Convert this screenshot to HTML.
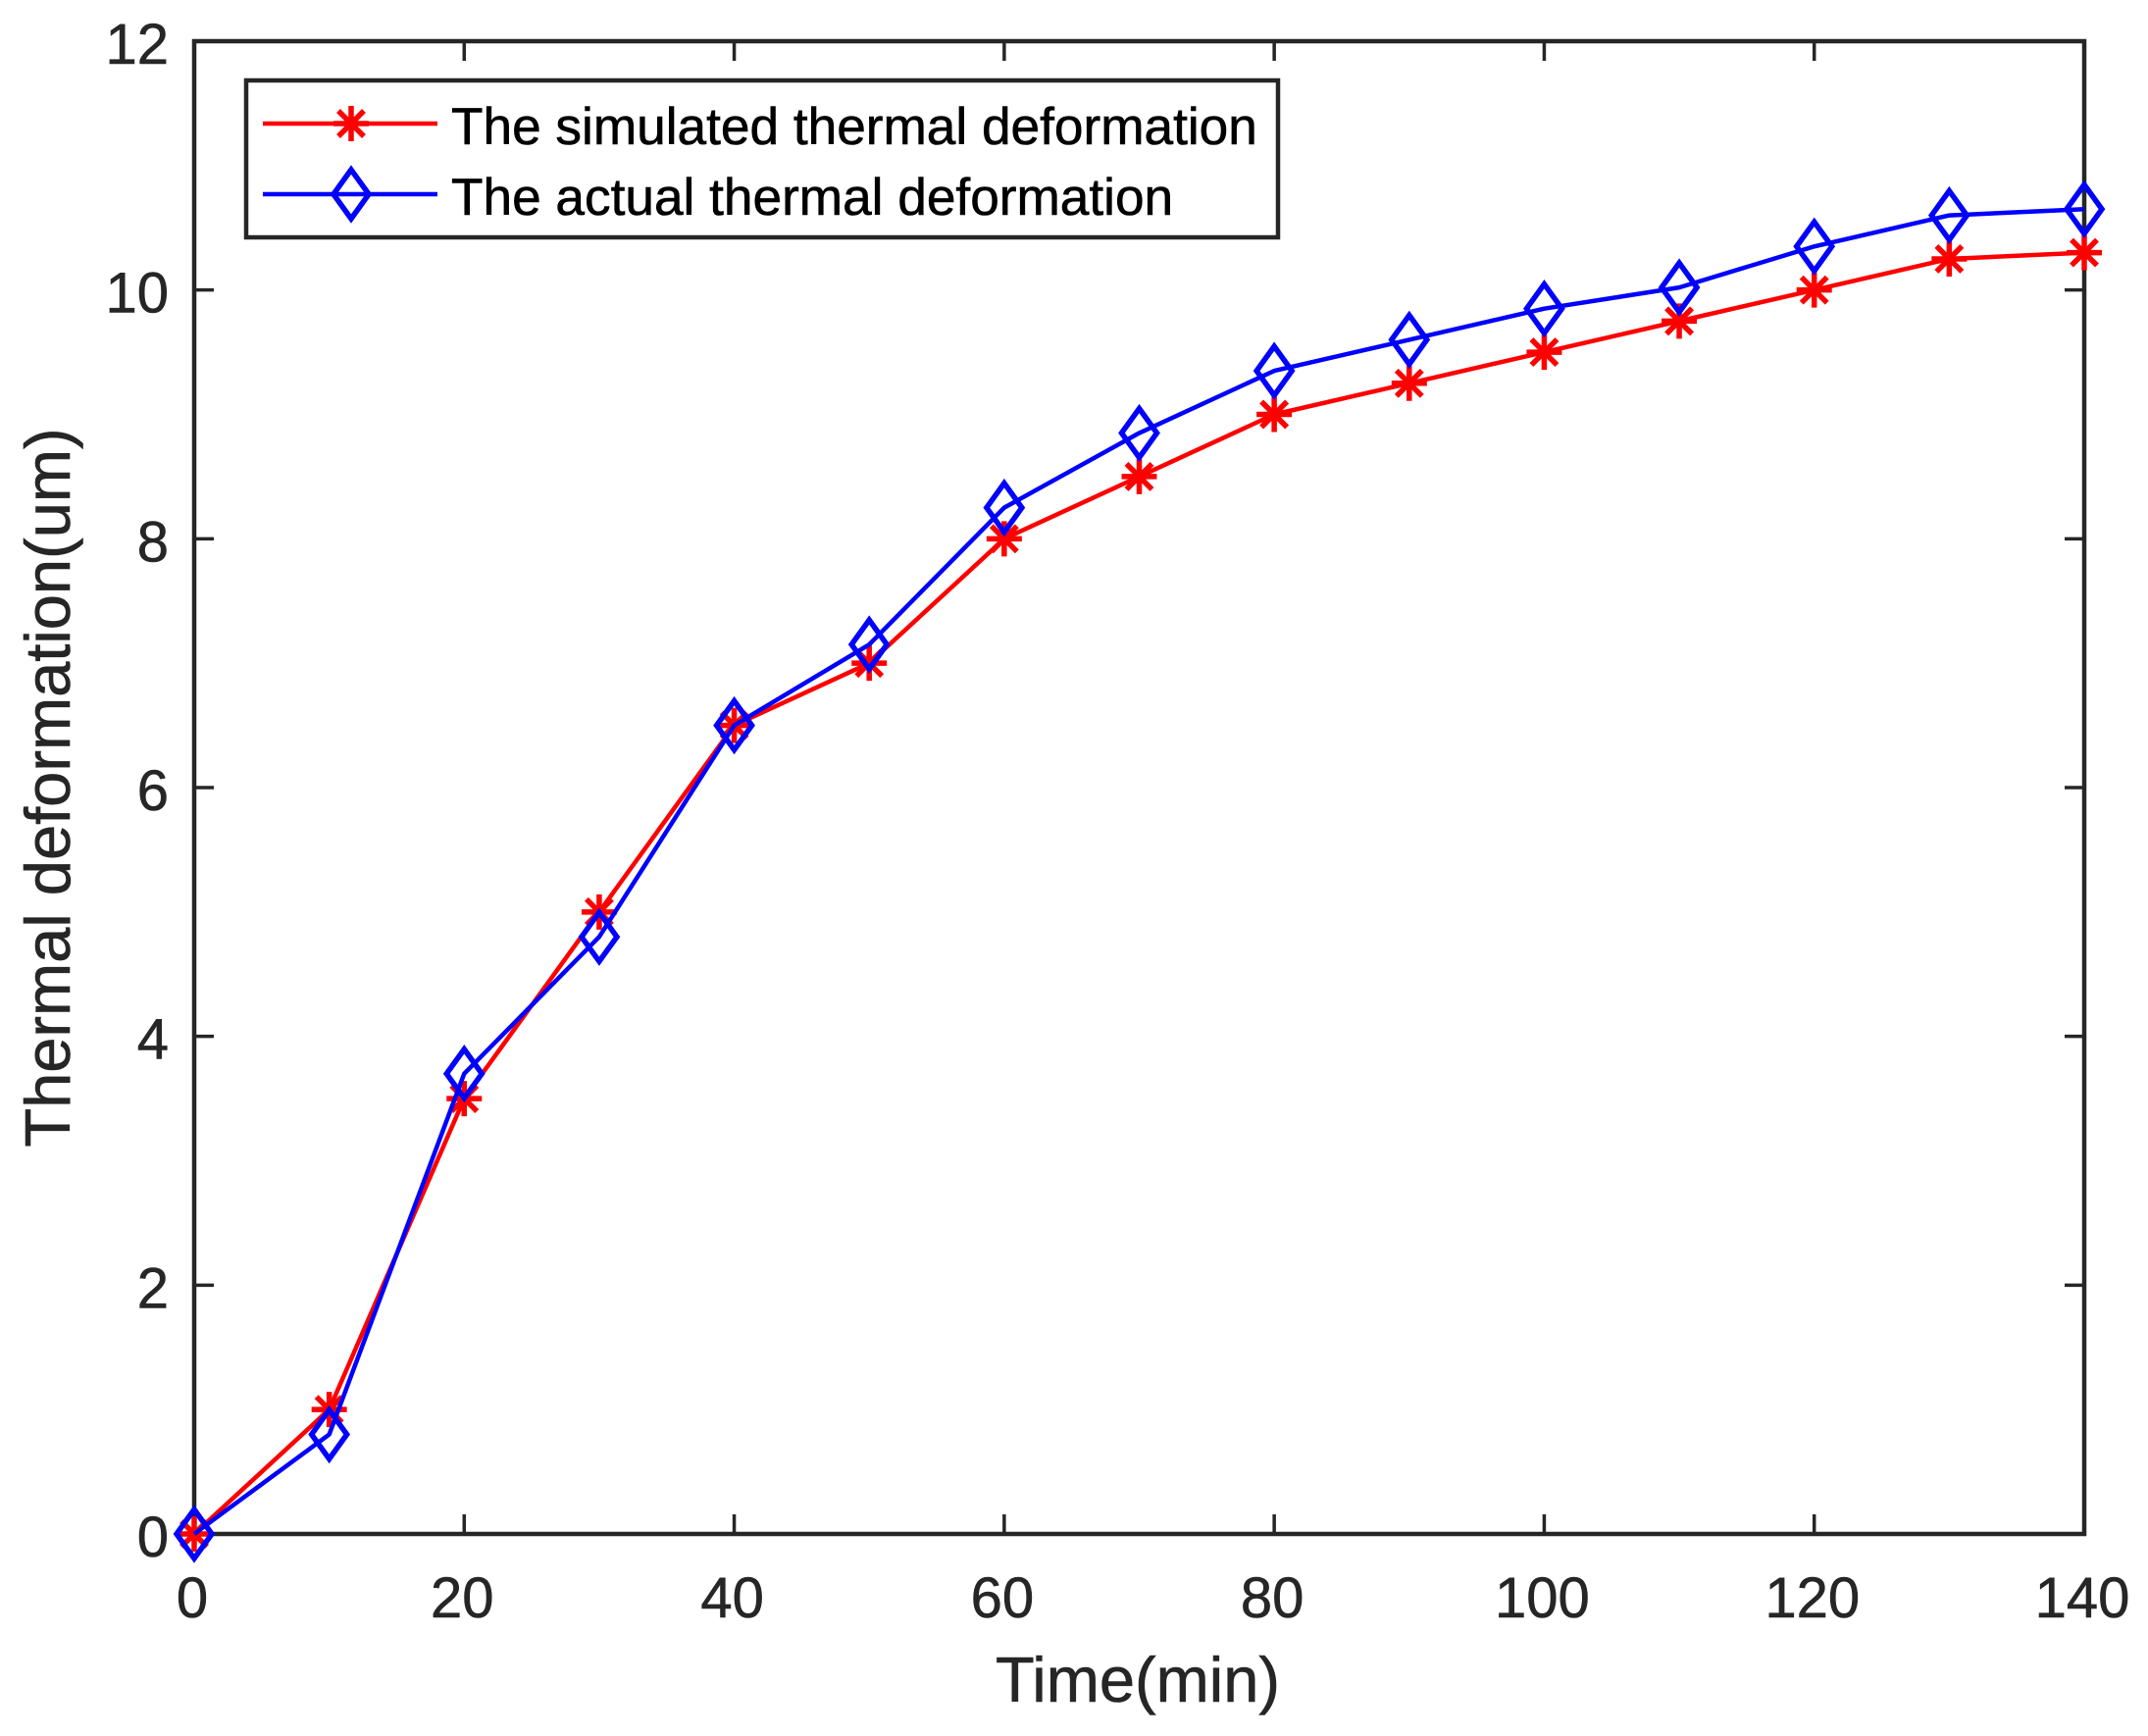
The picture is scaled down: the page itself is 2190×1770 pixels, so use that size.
<!DOCTYPE html>
<html lang="en">
<head>
<meta charset="utf-8">
<title>Thermal deformation chart</title>
<style>
  html, body { margin: 0; padding: 0; background: #fff; }
  svg { display: block; font-family: "Liberation Sans", Arial, sans-serif; }
</style>
</head>
<body>
<svg id="chart" xmlns="http://www.w3.org/2000/svg" width="2190" height="1770" viewBox="0 0 2190 1770">
  <rect x="0" y="0" width="2190" height="1770" fill="#ffffff"/>
  <g id="ticks"></g>
  <g id="tick-labels"></g>
  <g id="series"></g>
  <rect x="198" y="42" width="1927" height="1522" fill="none" stroke="#262626" stroke-width="4.5"/>
  <g id="series-top"></g>
  <text x="1160" y="1735" font-size="65" fill="#262626" stroke="#262626" stroke-width="0.6" text-anchor="middle">Time(min)</text>
  <text transform="translate(71 803) rotate(-90)" font-size="65" fill="#262626" stroke="#262626" stroke-width="0.6" text-anchor="middle">Thermal deformation(um)</text>
  <g>
    <rect x="251" y="82" width="1052" height="160" fill="#ffffff" stroke="#262626" stroke-width="4.5"/>
    <g>
      <line x1="268" y1="126" x2="446" y2="126" stroke="#ff0000" stroke-width="4.5"/>
      <path d="M340 126H376M358 108V144M345 113L371 139M371 113L345 139" fill="none" stroke="#ff0000" stroke-width="5.5"/>
      <text x="460" y="147" font-size="53.2" fill="#000000" stroke="#000000" stroke-width="0.6">The simulated thermal deformation</text>
    </g>
    <g>
      <line x1="268" y1="198" x2="446" y2="198" stroke="#0000ff" stroke-width="4.5"/>
      <path d="M358 173L376 198L358 223L340 198Z" fill="none" stroke="#0000ff" stroke-width="5.5"/>
      <text x="460" y="219" font-size="53.2" fill="#000000" stroke="#000000" stroke-width="0.6">The actual thermal deformation</text>
    </g>
  </g>
</svg>
<script>
const timeMinutes = [0, 10, 20, 30, 40, 50, 60, 70, 80, 90, 100, 110, 120, 130, 140];
const simulatedDeformation = [0, 1, 3.5, 5, 6.5, 7, 8, 8.5, 9, 9.25, 9.5, 9.75, 10, 10.25, 10.3];
const actualDeformation = [0, 0.8, 3.7, 4.8, 6.5, 7.15, 8.25, 8.85, 9.35, 9.6, 9.85, 10.02, 10.35, 10.6, 10.65];
const xTickValues = [0, 20, 40, 60, 80, 100, 120, 140];
const yTickValues = [0, 2, 4, 6, 8, 10, 12];

const NS = 'http://www.w3.org/2000/svg';
const plot = { left: 198, right: 2125, top: 42, bottom: 1564 };
const xDomain = [0, 140];
const yDomain = [0, 12];
const TICK_LEN = 20;

function xScale(v) {
  return plot.left + (v - xDomain[0]) / (xDomain[1] - xDomain[0]) * (plot.right - plot.left);
}
function yScale(v) {
  return plot.bottom - (v - yDomain[0]) / (yDomain[1] - yDomain[0]) * (plot.bottom - plot.top);
}

const ticksGroup = document.getElementById('ticks');
const labelsGroup = document.getElementById('tick-labels');
const topGroup = document.getElementById('series-top');

function addTick(x1, y1, x2, y2, name) {
  const el = document.createElementNS(NS, 'line');
  el.setAttribute('x1', x1);
  el.setAttribute('y1', y1);
  el.setAttribute('x2', x2);
  el.setAttribute('y2', y2);
  el.setAttribute('stroke', '#262626');
  el.setAttribute('stroke-width', '3.5');
  
  
  ticksGroup.appendChild(el);
}

function addLabel(x, y, anchor, text, name) {
  const el = document.createElementNS(NS, 'text');
  el.setAttribute('x', x);
  el.setAttribute('y', y);
  el.setAttribute('text-anchor', anchor);
  el.setAttribute('font-size', '58');
  el.setAttribute('fill', '#262626');
  el.setAttribute('stroke', '#262626');
  el.setAttribute('stroke-width', '0.6');
  
  
  el.textContent = text;
  labelsGroup.appendChild(el);
}

xTickValues.forEach(function (v) {
  const x = xScale(v);
  addTick(x, plot.bottom, x, plot.bottom - TICK_LEN, 'x-tick-bottom-' + v);
  addTick(x, plot.top, x, plot.top + TICK_LEN, 'x-tick-top-' + v);
  addLabel(x - 2, 1649, 'middle', String(v), 'x-tick-label-' + v);
});

yTickValues.forEach(function (v) {
  const y = yScale(v);
  addTick(plot.left, y, plot.left + TICK_LEN, y, 'y-tick-left-' + v);
  addTick(plot.right, y, plot.right - TICK_LEN, y, 'y-tick-right-' + v);
  addLabel(172, y + 23, 'end', String(v), 'y-tick-label-' + v);
});

function addPolyline(values, color, name) {
  const el = document.createElementNS(NS, 'polyline');
  const pts = values.map(function (v, i) {
    return xScale(timeMinutes[i]).toFixed(2) + ',' + yScale(v).toFixed(2);
  }).join(' ');
  el.setAttribute('points', pts);
  el.setAttribute('fill', 'none');
  el.setAttribute('stroke', color);
  el.setAttribute('stroke-width', '4.5');
  el.setAttribute('stroke-linejoin', 'round');
  
  
  topGroup.appendChild(el);
}

function addStar(v, i) {
  const cx = xScale(timeMinutes[i]);
  const cy = yScale(v);
  const el = document.createElementNS(NS, 'path');
  el.setAttribute('d',
    'M' + (cx - 18) + ' ' + cy + 'H' + (cx + 18) +
    'M' + cx + ' ' + (cy - 18) + 'V' + (cy + 18) +
    'M' + (cx - 13) + ' ' + (cy - 13) + 'L' + (cx + 13) + ' ' + (cy + 13) +
    'M' + (cx + 13) + ' ' + (cy - 13) + 'L' + (cx - 13) + ' ' + (cy + 13));
  el.setAttribute('fill', 'none');
  el.setAttribute('stroke', '#ff0000');
  el.setAttribute('stroke-width', '5.5');
  
  
  topGroup.appendChild(el);
}

function addDiamond(v, i) {
  const cx = xScale(timeMinutes[i]);
  const cy = yScale(v);
  const el = document.createElementNS(NS, 'path');
  el.setAttribute('d',
    'M' + cx + ' ' + (cy - 25) + 'L' + (cx + 18) + ' ' + cy +
    'L' + cx + ' ' + (cy + 25) + 'L' + (cx - 18) + ' ' + cy + 'Z');
  el.setAttribute('fill', 'none');
  el.setAttribute('stroke', '#0000ff');
  el.setAttribute('stroke-width', '5.5');
  
  
  topGroup.appendChild(el);
}

addPolyline(simulatedDeformation, '#ff0000', 'simulated-line');
simulatedDeformation.forEach(addStar);
addPolyline(actualDeformation, '#0000ff', 'actual-line');
actualDeformation.forEach(addDiamond);
</script>
</body>
</html>
